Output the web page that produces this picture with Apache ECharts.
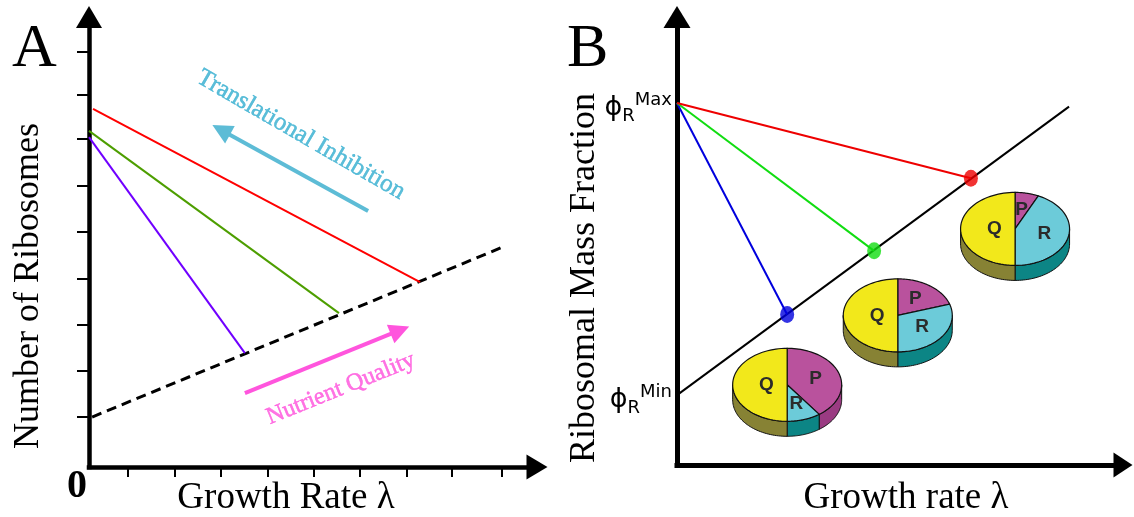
<!DOCTYPE html>
<html><head><meta charset="utf-8">
<script src="https://cdn.jsdelivr.net/npm/echarts@6/dist/echarts.min.js"></script>
<style>html,body{margin:0;padding:0;background:#fff}#c{width:1134px;height:517px}</style>
</head><body><div id="c"></div>
<script>
// ---------- Panel A data (arbitrary units, both axes 0..10) ----------
const aXTicks = [0.87, 1.92, 2.95, 4.00, 5.02, 6.05, 7.10, 8.10, 9.22];
const aYTicks = [1.11, 2.13, 3.16, 4.18, 5.22, 6.24, 7.29, 8.27, 9.22];
const aXLabels = [0];
const aRed = [[0.09, 7.96], [7.39, 4.11]];
const aGreen = [[0, 7.47], [5.58, 3.42]];
const aPurple = [[0, 7.33], [3.48, 2.53]];
const aDashed = [[0.07, 1.11], [9.29, 4.91]];
const aInhibitArrow = [[6.23, 5.69], [2.95, 7.49]];
const aNutrientArrow = [[3.48, 1.64], [6.94, 3.04]];
const aNotes = ['Translational Inhibition', 'Nutrient Quality'];
const aNotePos = [[4.73, 7.38], [5.62, 1.74]];

// ---------- Panel B data ----------
const phiMax = 8.08, phiMin = 1.56;
const bGrowthLine = [[0, phiMin], [8.79, 8.0]];
const bDotX = [2.47, 4.42, 6.59];
const bDotY = [3.36, 4.78, 6.40];
const pieQ = [50, 50, 50];
const pieP = [40, 20, 7];
const pieR = [10, 30, 43];

// ---------- layout / styles ----------
const pieCenter = [[2.47, 1.79], [4.95, 3.34], [7.58, 5.27]];
const serif = '"Liberation Serif", "Times New Roman", Times, serif';
const sans = '"DejaVu Sans", Verdana, sans-serif';
const dotColors = ['#0000dd', '#11dd11', '#ee0000'];
const noteColors = ['#33aed0', '#ff50dc'];

function lineSer(data, color, gi, extra) {
  return {type: 'line', xAxisIndex: gi, yAxisIndex: gi, data: data, symbol: 'none',
    silent: true, z: 3, lineStyle: Object.assign({color: color, width: 2}, extra || {})};
}

function renderPie(params, api) {
  const i = params.dataIndex;
  const c = api.coord([api.value(0), api.value(1)]);
  const rx = 54.5, ry = 36.5, d = 15;
  const total = pieQ[i] + pieP[i] + pieR[i];
  const parts = [
    {v: pieP[i], top: '#b9529d', side: '#9a3b82', name: 'P'},
    {v: pieR[i], top: '#6ccbd9', side: '#0c8585', name: 'R'},
    {v: pieQ[i], top: '#f2e81b', side: '#878234', name: 'Q'}
  ];
  const R = Math.PI / 180;
  const pt = (deg, dy) => [c[0] + rx * Math.sin(deg * R), c[1] - ry * Math.cos(deg * R) + (dy || 0)];
  const sides = [], tops = [], texts = [];
  let a = 0;
  parts.forEach(p => {
    const b = a + p.v / total * 360;
    const s = Math.max(a, 90), e = Math.min(b, 270);
    if (e > s) {
      const pts = [];
      for (let k = 0; k <= 40; k++) pts.push(pt(s + (e - s) * k / 40));
      for (let k = 40; k >= 0; k--) pts.push(pt(s + (e - s) * k / 40, d));
      sides.push({type: 'polygon', shape: {points: pts}, style: {fill: p.side, stroke: '#111', lineWidth: 1}});
    }
    const tp = [c.slice()];
    for (let k = 0; k <= 60; k++) tp.push(pt(a + (b - a) * k / 60));
    tops.push({type: 'polygon', shape: {points: tp}, style: {fill: p.top, stroke: '#111', lineWidth: 1.2}});
    const mid = (a + b) / 2, r = p.name === 'Q' ? 0.38 : 0.55;
    texts.push({type: 'text', style: {text: p.name,
      x: c[0] + r * rx * Math.sin(mid * R), y: c[1] - r * ry * Math.cos(mid * R),
      align: 'center', verticalAlign: 'middle', fill: '#2b2b2b',
      font: 'bold 19px "Liberation Sans", Arial, sans-serif'}});
    a = b;
  });
  return {type: 'group', children: sides.concat(tops, texts)};
}

const axisBase = (gi) => ({gridIndex: gi, type: 'value', min: 0, max: 10, splitLine: {show: false}, nameMoveOverlap: false});

const option = {
  backgroundColor: '#fff',
  animation: false,
  title: [
    {text: 'A', left: 12, top: 19, padding: 0, textStyle: {fontFamily: serif, fontSize: 62, fontWeight: 'normal', color: '#000'}},
    {text: 'B', left: 567, top: 19, padding: 0, textStyle: {fontFamily: serif, fontSize: 62, fontWeight: 'normal', color: '#000'}}
  ],
  grid: [
    {left: 89, top: 17, width: 448, height: 450, outerBoundsMode: 'none', containLabel: false},
    {left: 677, top: 17, width: 446, height: 448, outerBoundsMode: 'none', containLabel: false}
  ],
  xAxis: [
    Object.assign(axisBase(0), {
      axisLine: {show: true, symbol: ['none', 'triangle'], symbolSize: [25, 21], lineStyle: {color: '#000', width: 4.5, cap: 'square'}},
      axisTick: {show: true, customValues: aXTicks, length: 10, lineStyle: {color: '#000', width: 2}},
      axisLabel: {show: true, customValues: aXLabels, formatter: v => String(v), align: 'right', margin: 0, padding: [0, 2, 0, 0],
        fontFamily: serif, fontSize: 40, fontWeight: 'bold', color: '#000'},
      name: 'Growth Rate λ', nameLocation: 'middle', nameGap: 13,
      nameTextStyle: {fontFamily: serif, fontSize: 37, color: '#000', padding: [0, 54, 0, 0]}
    }),
    Object.assign(axisBase(1), {
      axisLine: {show: true, symbol: ['none', 'triangle'], symbolSize: [25, 19], lineStyle: {color: '#000', width: 5, cap: 'square'}},
      axisTick: {show: false}, axisLabel: {show: false},
      name: 'Growth rate λ', nameLocation: 'middle', nameGap: 15,
      nameTextStyle: {fontFamily: serif, fontSize: 37, color: '#000', padding: [0, 0, 0, 12]}
    })
  ],
  yAxis: [
    Object.assign(axisBase(0), {
      axisLine: {show: true, symbol: ['none', 'triangle'], symbolSize: [26, 22], lineStyle: {color: '#000', width: 4.5, cap: 'square'}},
      axisTick: {show: true, customValues: aYTicks, length: 12, lineStyle: {color: '#000', width: 2}},
      axisLabel: {show: false},
      name: 'Number of Ribosomes', nameLocation: 'middle', nameGap: 42,
      nameTextStyle: {fontFamily: serif, fontSize: 36, color: '#000', padding: [0, 88, 0, 0]}
    }),
    Object.assign(axisBase(1), {
      axisLine: {show: true, symbol: ['none', 'triangle'], symbolSize: [27, 22], lineStyle: {color: '#000', width: 5, cap: 'square'}},
      axisTick: {show: false},
      axisLabel: {show: true, customValues: [phiMin, phiMax], margin: 5, padding: [10, 0, 0, 0],
        formatter: v => Math.abs(v - phiMax) < 1e-6 ? '{p|ϕ}{s|R}{u|Max}' : '{p|ϕ}{s|R}{u|Min}',
        rich: {
          p: {fontFamily: sans, fontSize: 27, lineHeight: 34, verticalAlign: 'middle', color: '#000'},
          s: {fontFamily: sans, fontSize: 18, lineHeight: 18, verticalAlign: 'bottom', color: '#000'},
          u: {fontFamily: sans, fontSize: 18, lineHeight: 18, verticalAlign: 'top', color: '#000'}
        }},
      name: 'Ribosomal Mass Fraction', nameLocation: 'middle', nameGap: 74,
      nameTextStyle: {fontFamily: serif, fontSize: 36, color: '#000', padding: [0, 74, 0, 0]}
    })
  ],
  series: [
    // Panel A
    lineSer(aDashed, '#000', 0, {width: 3, type: [10, 6]}),
    lineSer(aRed, '#ff0000', 0),
    lineSer(aGreen, '#4d9e00', 0),
    lineSer(aPurple, '#7000ff', 0),
    {type: 'lines', coordinateSystem: 'cartesian2d', xAxisIndex: 0, yAxisIndex: 0, silent: true,
      symbol: ['none', 'triangle'], symbolSize: 20, z: 3,
      lineStyle: {width: 4, opacity: 1, curveness: 0},
      data: [
        {coords: aInhibitArrow, lineStyle: {color: '#5dbcd6'}},
        {coords: aNutrientArrow, lineStyle: {color: '#ff55dd'}}
      ]},
    {type: 'scatter', xAxisIndex: 0, yAxisIndex: 0, symbolSize: 0, silent: true, z: 4,
      data: aNotePos.map((p, i) => ({value: p, label: {formatter: aNotes[i], rotate: [-30, 22][i],
        color: noteColors[i], textBorderColor: noteColors[i], textBorderWidth: 0.5, fontSize: [25, 24][i]}})),
      label: {show: true, position: 'inside', fontFamily: serif}},
    // Panel B
    lineSer(bGrowthLine, '#000', 1),
    ...bDotX.map((x, i) => lineSer([[0, phiMax], [x, bDotY[i]]], dotColors[i], 1)),
    {type: 'custom', xAxisIndex: 1, yAxisIndex: 1, silent: true, z: 2,
      data: pieCenter.map((p, i) => [p[0], p[1], i]), renderItem: renderPie},
    {type: 'scatter', xAxisIndex: 1, yAxisIndex: 1, silent: true, z: 5,
      symbol: 'circle', symbolSize: [14, 17],
      data: bDotX.map((x, i) => ({value: [x, bDotY[i]], itemStyle: {color: dotColors[i]}}))}
  ]
};
const chart = echarts.init(document.getElementById('c'), null, {renderer: 'canvas'});
chart.setOption(option);
</script></body></html>
